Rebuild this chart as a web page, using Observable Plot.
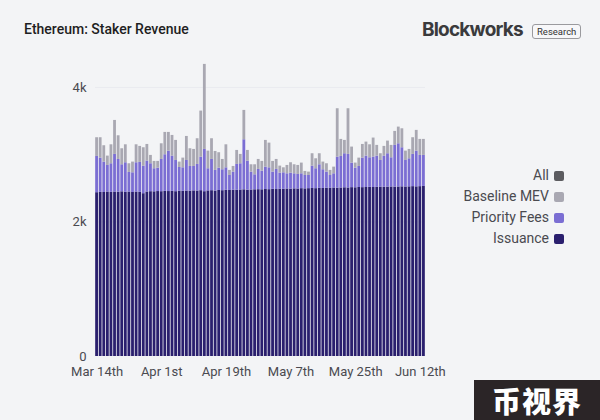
<!DOCTYPE html>
<html>
<head>
<meta charset="utf-8">
<script src="https://cdn.jsdelivr.net/npm/d3@7"></script>
<script src="https://cdn.jsdelivr.net/npm/@observablehq/plot@0.6"></script>
<style>
  html, body { margin: 0; padding: 0; }
  body { width: 600px; height: 420px; background: #f3f4f6; position: relative; overflow: hidden; font-family: "Roboto", "Inter", sans-serif; }
  #chart { position: absolute; left: 0; top: 0; }
  .title { position: absolute; left: 24px; top: 21px; font-size: 14px; font-weight: 500; color: #1e1e22; }
  .logo { position: absolute; left: 422px; top: 18px; font-family: "Inter", sans-serif; font-weight: 700; font-size: 19px; letter-spacing: -0.8px; color: #3a3a3c; }
  .badge { position: absolute; left: 532px; top: 24px; font-size: 9.5px; color: #333; border: 1px solid #9a9a9e; border-radius: 3px; padding: 1px 4px 1px 4px; background: #f7f7f9; }
  .legend { position: absolute; right: 36px; top: 165px; font-size: 14px; color: #4a4a50; text-align: right; }
  .legend div { height: 21px; line-height: 21px; display: flex; justify-content: flex-end; align-items: center; }
  .legend span.sw { display: inline-block; width: 10px; height: 10px; border-radius: 2px; margin-left: 5px; }
  .wm { position: absolute; left: 474px; top: 380px; width: 126px; height: 40px; background: #2b2527; color: #fff; font-family: "Noto Sans CJK SC", sans-serif; font-weight: 900; font-size: 29px; line-height: 40px; text-align: center; letter-spacing: 1px; }
</style>
</head>
<body>
<div id="chart"></div>
<div class="title">Ethereum: Staker Revenue</div>
<div class="logo">Blockworks</div>
<div class="badge">Research</div>
<div class="legend" id="legend"></div>
<div class="wm">币视界</div>
<script>
// Daily categories: Mar 14 – Jun 13
const days = d3.utcDay.range(new Date(Date.UTC(2023, 2, 14)), new Date(Date.UTC(2023, 5, 14))).map(d => d3.utcFormat("%Y-%m-%d")(d));

const tickDates = ["2023-03-14", "2023-04-01", "2023-04-19", "2023-05-07", "2023-05-25", "2023-06-12"];
const tickLabels = ["Mar 14th", "Apr 1st", "Apr 19th", "May 7th", "May 25th", "Jun 12th"];

const seriesNames = ["Issuance", "Priority Fees", "Baseline MEV"];
const seriesColors = ["#2a1f6e", "#7b6ed3", "#a9a8b2"];
const legendNames = ["All", "Baseline MEV", "Priority Fees", "Issuance"];
const legendColors = ["#5c5c60", "#a9a8b2", "#7b6ed3", "#2a1f6e"];

const issuance = [
  2435,2440,2438,2445,2440,2445,2442,2448,2440,2445,
  2438,2445,2440,2420,2445,2450,2448,2452,2450,2455,
  2452,2455,2450,2458,2455,2460,2458,2462,2460,2465,
  2450,2462,2465,2460,2468,2465,2470,2468,2472,2470,
  2475,2478,2472,2475,2478,2480,2478,2482,2480,2485,
  2482,2488,2485,2490,2488,2492,2490,2495,2492,2495,
  2498,2495,2500,2498,2502,2500,2505,2502,2505,2508,
  2505,2510,2508,2512,2510,2512,2515,2512,2515,2518,
  2515,2518,2520,2518,2520,2522,2520,2522,2525,2522,2525,2528
];
const priorityFees = [
  539,509,452,395,425,559,487,402,440,291,
  293,435,445,410,460,415,343,348,479,544,
  601,524,464,352,350,454,367,363,395,499,
  628,329,464,306,332,311,335,223,269,385,
  390,744,433,266,223,301,278,333,325,256,
  299,238,246,226,238,224,216,221,199,196,
  332,296,350,278,239,191,211,462,469,506,
  499,365,292,313,439,467,439,452,464,396,
  464,496,434,620,642,581,394,417,479,531,464,461
];
const baselineMEV = [
  278,303,243,139,282,505,352,238,267,129,
  159,267,238,273,247,124,109,100,233,332,
  278,307,298,80,144,357,263,253,382,684,
  1264,262,308,282,229,153,342,75,84,208,
  139,436,158,109,149,148,144,397,367,159,
  148,104,74,124,154,134,134,159,60,50,
  184,148,164,114,124,75,99,719,253,198,
  679,238,75,124,203,208,193,283,159,100,
  144,188,184,208,248,282,139,139,248,308,238,238
];

const seriesValues = [issuance, priorityFees, baselineMEV];
const rows = [];
seriesNames.forEach((name, s) => {
  days.forEach((d, i) => rows.push({ date: d, series: name, value: seriesValues[s][i] }));
});

const chart = Plot.plot({
  width: 600,
  height: 420,
  marginLeft: 95,
  marginRight: 175,
  marginTop: 60,
  marginBottom: 64,
  style: { background: "transparent", fontFamily: "Roboto, Inter, sans-serif", fontSize: "13px", color: "#4a4a50" },
  x: { type: "band", domain: days, paddingInner: 0.22, paddingOuter: 0.05, axis: null },
  y: { domain: [0, 4400], nice: false, axis: null },
  color: { domain: seriesNames, range: seriesColors },
  marks: [
    Plot.gridY([2000, 4000], { stroke: "#eaebef", strokeOpacity: 1 }),
    Plot.barY(rows, { x: "date", y: "value", fill: "series", order: seriesNames }),
    Plot.axisY([0, 2000, 4000], { tickSize: 0, tickPadding: 9, label: null, fontSize: 13, fill: "#4a4a50", tickFormat: d => d === 0 ? "0" : (d / 1000) + "k" }),
    Plot.axisX(tickDates, { tickSize: 0, tickPadding: 10, label: null, fontSize: 13, fill: "#4a4a50", tickFormat: d => tickLabels[tickDates.indexOf(d)] })
  ]
});
document.getElementById("chart").appendChild(chart);

const leg = document.getElementById("legend");
legendNames.forEach((n, i) => {
  const row = document.createElement("div");
  row.innerHTML = `<span>${n}</span><span class="sw" style="background:${legendColors[i]}"></span>`;
  leg.appendChild(row);
});
</script>
</body>
</html>
